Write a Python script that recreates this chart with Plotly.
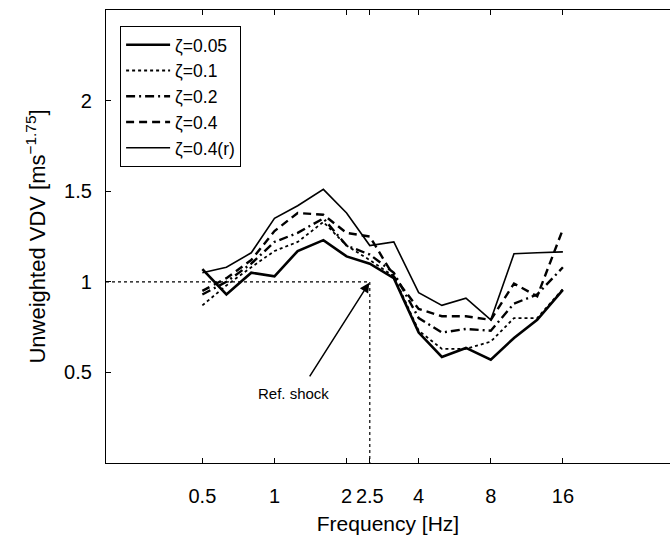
import math
import plotly.graph_objects as go

freq = [0.5, 0.63, 0.8, 1.0, 1.25, 1.6, 2.0, 2.5, 3.15, 4.0, 5.0, 6.3, 8.0, 10.0, 12.5, 16.0]

vdv_005 = [1.07, 0.93, 1.05, 1.03, 1.17, 1.23, 1.14, 1.10, 1.02, 0.72, 0.585, 0.635, 0.57, 0.69, 0.79, 0.955]
vdv_01 = [0.87, 0.98, 1.08, 1.17, 1.22, 1.33, 1.20, 1.12, 1.03, 0.73, 0.63, 0.63, 0.67, 0.80, 0.80, 0.96]
vdv_02 = [0.93, 1.00, 1.10, 1.22, 1.27, 1.35, 1.20, 1.15, 1.05, 0.80, 0.72, 0.74, 0.73, 0.88, 0.93, 1.08]
vdv_04 = [0.95, 1.02, 1.12, 1.28, 1.38, 1.37, 1.27, 1.25, 1.03, 0.85, 0.81, 0.81, 0.79, 0.99, 0.92, 1.29]
vdv_04r = [1.05, 1.08, 1.16, 1.35, 1.42, 1.51, 1.38, 1.20, 1.22, 0.94, 0.87, 0.91, 0.79, 1.155, 1.16, 1.165]

labels = ["ζ=0.05", "ζ=0.1", "ζ=0.2", "ζ=0.4", "ζ=0.4(r)"]

tick_vals = [0.5, 1, 2, 2.5, 4, 8, 16]
tick_text = ["0.5", "1", "2", "2.5", "4", "8", "16"]
ytick_vals = [0.5, 1, 1.5, 2]
ytick_text = ["0.5", "1", "1.5", "2"]

ref_freq = 2.5
ref_vdv = 1.0
x_min, x_max = 0.198, 44.8
y_min, y_max = 0.0, 2.5

FONT = "Liberation Sans, Arial, sans-serif"

fig = go.Figure()

# reference dotted guide lines
fig.add_trace(go.Scatter(
    x=[x_min, ref_freq, ref_freq], y=[ref_vdv, ref_vdv, y_min],
    mode="lines", line=dict(color="black", width=1.2, dash="dot"),
    showlegend=False, hoverinfo="skip"))

styles = [
    dict(width=2.6, dash="solid"),
    dict(width=1.8, dash="dot"),
    dict(width=2.4, dash="9px,4px,2px,4px"),
    dict(width=2.4, dash="8px,5px"),
    dict(width=1.6, dash="solid"),
]
series = [vdv_005, vdv_01, vdv_02, vdv_04, vdv_04r]

for name, vals, st in zip(labels, series, styles):
    fig.add_trace(go.Scatter(
        x=freq, y=vals, mode="lines", name=name,
        line=dict(color="black", width=st["width"], dash=st["dash"])))

# Arrow pointing to reference shock
fig.add_annotation(
    x=math.log10(ref_freq), y=ref_vdv, xref="x", yref="y",
    ax=math.log10(1.39), ay=0.47, axref="x", ayref="y",
    showarrow=True, arrowhead=2, arrowsize=1.3, arrowwidth=1.5,
    arrowcolor="black", text="", standoff=1)
fig.add_annotation(
    x=math.log10(1.2), y=0.385, xref="x", yref="y",
    text="Ref. shock", showarrow=False,
    font=dict(family=FONT, size=15, color="black"))

fig.update_layout(
    width=670, height=538,
    margin=dict(l=106, r=0, t=10, b=75),
    paper_bgcolor="white", plot_bgcolor="white",
    font=dict(family=FONT, size=20, color="black"),
    showlegend=True,
    legend=dict(
        x=0.025, y=0.965, xanchor="left", yanchor="top",
        bgcolor="white", bordercolor="black", borderwidth=1,
        font=dict(family=FONT, size=17.5, color="black"),
        itemwidth=44, tracegroupgap=0),
    xaxis=dict(
        type="log", range=[math.log10(x_min), math.log10(x_max)],
        tickvals=tick_vals, ticktext=tick_text,
        ticks="inside", ticklen=5, tickcolor="black",
        ticklabelstandoff=15,
        showline=True, linecolor="black", linewidth=1.2, mirror="ticks",
        showgrid=False, zeroline=False,
        title=dict(text="Frequency [Hz]", font=dict(size=21), standoff=10),
        tickfont=dict(size=20)),
    yaxis=dict(
        range=[y_min, y_max],
        tickvals=ytick_vals, ticktext=ytick_text,
        ticks="inside", ticklen=5, tickcolor="black",
        ticklabelstandoff=9,
        showline=True, linecolor="black", linewidth=1.2,
        showgrid=False, zeroline=False,
        title=dict(text="Unweighted VDV [ms<sup>−1.75</sup>]", font=dict(size=22), standoff=12),
        tickfont=dict(size=20)),
)

fig.write_html("out.html")
